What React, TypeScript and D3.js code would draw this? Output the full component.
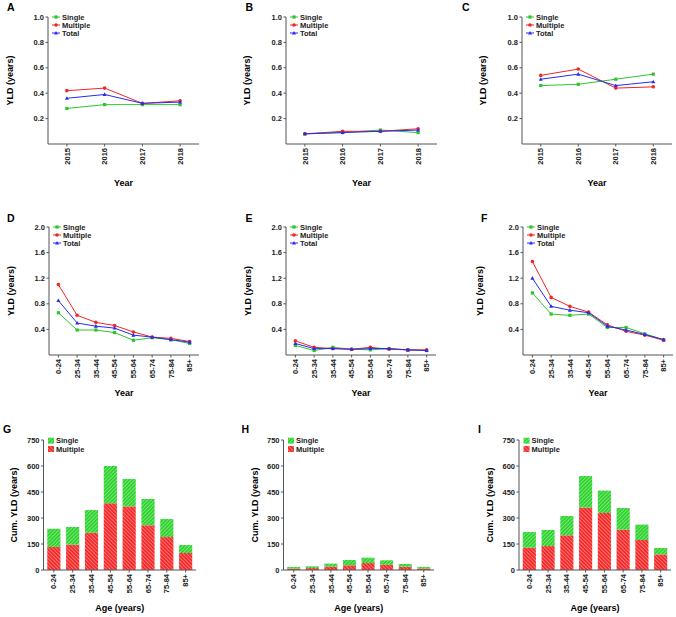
import React from "react";
import * as d3 from "d3";

// ---------- data ----------
const years = ["2015", "2016", "2017", "2018"];
const ageGroups = ["0-24", "25-34", "35-44", "45-54", "55-64", "65-74", "75-84", "85+"];

const yearTicks = [0.2, 0.4, 0.6, 0.8, 1.0];
const ageTicks = [0.4, 0.8, 1.2, 1.6, 2.0];
const cumTicks = [0, 150, 300, 450, 600, 750];

const A_single = [0.28, 0.31, 0.31, 0.31];
const A_multiple = [0.42, 0.44, 0.32, 0.34];
const A_total = [0.36, 0.39, 0.32, 0.33];

const B_single = [0.08, 0.09, 0.11, 0.09];
const B_multiple = [0.08, 0.1, 0.1, 0.12];
const B_total = [0.08, 0.09, 0.1, 0.11];

const C_single = [0.46, 0.47, 0.51, 0.55];
const C_multiple = [0.54, 0.59, 0.44, 0.45];
const C_total = [0.51, 0.55, 0.46, 0.49];

const D_single = [0.66, 0.39, 0.39, 0.35, 0.23, 0.27, 0.24, 0.18];
const D_multiple = [1.1, 0.62, 0.51, 0.46, 0.36, 0.28, 0.26, 0.21];
const D_total = [0.85, 0.5, 0.45, 0.42, 0.31, 0.28, 0.24, 0.2];

const E_single = [0.15, 0.07, 0.12, 0.09, 0.08, 0.1, 0.08, 0.07];
const E_multiple = [0.22, 0.12, 0.1, 0.09, 0.12, 0.09, 0.08, 0.08];
const E_total = [0.18, 0.1, 0.1, 0.09, 0.1, 0.1, 0.08, 0.07];

const F_single = [0.97, 0.64, 0.62, 0.64, 0.43, 0.43, 0.33, 0.24];
const F_multiple = [1.46, 0.9, 0.76, 0.67, 0.47, 0.37, 0.31, 0.23];
const F_total = [1.2, 0.76, 0.7, 0.66, 0.45, 0.39, 0.32, 0.24];

const G_multiple = [133, 146, 215, 385, 367, 258, 190, 98];
const G_single = [105, 102, 131, 215, 158, 152, 104, 46];

const H_multiple = [8, 11, 19, 27, 40, 30, 19, 9];
const H_single = [10, 10, 18, 31, 31, 26, 16, 9];

const I_multiple = [129, 138, 200, 360, 329, 233, 173, 90];
const I_single = [90, 93, 112, 182, 129, 125, 89, 37];

// ---------- style ----------
const FONT = "'Liberation Sans', Arial, sans-serif";
const GREEN = "#2ec42e";
const RED = "#f52525";
const BLUE = "#2a2af2";
const AXIS = "#555";
const TICK_FS = 7.5;
const TITLE_FS = 9;
const LETTER_FS = 10.5;

type Marker = "square" | "circle" | "triangle";

function MarkerShape({ x, y, kind, color }: { x: number; y: number; kind: Marker; color: string }) {
  if (kind === "square") return <rect x={x - 1.6} y={y - 1.6} width={3.2} height={3.2} fill={color} />;
  if (kind === "circle") return <circle cx={x} cy={y} r={1.8} fill={color} />;
  return <path d={`M${x},${y - 2.1}L${x + 2},${y + 1.5}L${x - 2},${y + 1.5}Z`} fill={color} />;
}

type LineProps = {
  letter: string;
  letterX: number;
  letterY: number;
  cats: string[];
  single: number[];
  multiple: number[];
  total: number[];
  x0: number;
  x1: number;
  yTop: number;
  yBottom: number;
  yMax: number;
  ticks: number[];
  titleX: number;
  xTitleY: number;
  xTitle: string;
};

function LinePanel(p: LineProps) {
  const x = d3.scalePoint<string>().domain(p.cats).range([p.x0, p.x1]).padding(0.5);
  const y = d3.scaleLinear().domain([0, p.yMax]).range([p.yBottom, p.yTop]);
  const series = [
    { name: "Single", vals: p.single, color: GREEN, marker: "square" as Marker },
    { name: "Multiple", vals: p.multiple, color: RED, marker: "circle" as Marker },
    { name: "Total", vals: p.total, color: BLUE, marker: "triangle" as Marker },
  ];
  const line = d3
    .line<number>()
    .x((_, i) => x(p.cats[i]) as number)
    .y((d) => y(d));
  return (
    <g>
      <text x={p.letterX} y={p.letterY} fontSize={LETTER_FS} fontWeight="bold" fontFamily={FONT}>
        {p.letter}
      </text>
      {/* axes */}
      <line x1={p.x0} x2={p.x0} y1={p.yTop} y2={p.yBottom} stroke={AXIS} strokeWidth={1} />
      <line x1={p.x0} x2={p.x1} y1={p.yBottom} y2={p.yBottom} stroke={AXIS} strokeWidth={1} />
      {p.ticks.map((t) => (
        <g key={t}>
          <line x1={p.x0 - 2.5} x2={p.x0} y1={y(t)} y2={y(t)} stroke={AXIS} />
          <text
            x={p.x0 - 4}
            y={y(t)}
            dy="0.35em"
            textAnchor="end"
            fontSize={TICK_FS}
            fontWeight="bold"
            fontFamily={FONT}
            fill="#222"
          >
            {d3.format(".1f")(t)}
          </text>
        </g>
      ))}
      {p.cats.map((c) => (
        <g key={c}>
          <line x1={x(c)} x2={x(c)} y1={p.yBottom} y2={p.yBottom + 2.5} stroke={AXIS} />
          <text
            transform={`translate(${x(c)},${p.yBottom + 4}) rotate(-90)`}
            dy="0.35em"
            textAnchor="end"
            fontSize={TICK_FS}
            fontWeight="bold"
            fontFamily={FONT}
            fill="#222"
          >
            {c}
          </text>
        </g>
      ))}
      <text
        transform={`translate(${p.titleX},${(p.yTop + p.yBottom) / 2}) rotate(-90)`}
        dy="0.35em"
        textAnchor="middle"
        fontSize={TITLE_FS}
        fontWeight="bold"
        fontFamily={FONT}
      >
        YLD (years)
      </text>
      <text
        x={(p.x0 + p.x1) / 2}
        y={p.xTitleY}
        textAnchor="middle"
        fontSize={TITLE_FS}
        fontWeight="bold"
        fontFamily={FONT}
      >
        {p.xTitle}
      </text>
      {/* series */}
      {series.map((s) => (
        <g key={s.name}>
          <path d={line(s.vals) || ""} fill="none" stroke={s.color} strokeWidth={1} />
          {s.vals.map((v, i) => (
            <MarkerShape key={i} x={x(p.cats[i]) as number} y={y(v)} kind={s.marker} color={s.color} />
          ))}
        </g>
      ))}
      {/* legend */}
      {series.map((s, i) => {
        const ly = p.yTop + i * 8;
        return (
          <g key={s.name}>
            <line x1={p.x0 + 4} x2={p.x0 + 12} y1={ly} y2={ly} stroke={s.color} strokeWidth={1} />
            <MarkerShape x={p.x0 + 8} y={ly} kind={s.marker} color={s.color} />
            <text
              x={p.x0 + 14}
              y={ly}
              dy="0.35em"
              fontSize={TICK_FS}
              fontWeight="bold"
              fontFamily={FONT}
              fill="#222"
            >
              {s.name}
            </text>
          </g>
        );
      })}
    </g>
  );
}

type BarProps = {
  letter: string;
  letterX: number;
  letterY: number;
  single: number[];
  multiple: number[];
  x0: number;
  x1: number;
  yTop: number;
  yBottom: number;
  titleX: number;
  xTitleY: number;
};

function BarPanel(p: BarProps) {
  const x = d3.scaleBand<string>().domain(ageGroups).range([p.x0, p.x1]).paddingInner(0.3).paddingOuter(0.2);
  const y = d3.scaleLinear().domain([0, 750]).range([p.yBottom, p.yTop]);
  const rows = ageGroups.map((g, i) => ({ g, multiple: p.multiple[i], single: p.single[i] }));
  const stacked = d3.stack<any>().keys(["multiple", "single"])(rows);
  const fills: Record<string, string> = { multiple: "url(#hatchRed)", single: "url(#hatchGreen)" };
  return (
    <g>
      <text x={p.letterX} y={p.letterY} fontSize={LETTER_FS} fontWeight="bold" fontFamily={FONT}>
        {p.letter}
      </text>
      {stacked.map((layer) => (
        <g key={layer.key}>
          {layer.map((d, i) => (
            <rect
              key={i}
              x={x(ageGroups[i])}
              width={x.bandwidth()}
              y={y(d[1])}
              height={Math.max(0, y(d[0]) - y(d[1]))}
              fill={fills[layer.key]}
            />
          ))}
        </g>
      ))}
      <line x1={p.x0} x2={p.x0} y1={p.yTop} y2={p.yBottom} stroke={AXIS} strokeWidth={1} />
      <line x1={p.x0} x2={p.x1} y1={p.yBottom} y2={p.yBottom} stroke={AXIS} strokeWidth={1} />
      {cumTicks.map((t) => (
        <g key={t}>
          <line x1={p.x0 - 2.5} x2={p.x0} y1={y(t)} y2={y(t)} stroke={AXIS} />
          <text
            x={p.x0 - 4}
            y={y(t)}
            dy="0.35em"
            textAnchor="end"
            fontSize={TICK_FS}
            fontWeight="bold"
            fontFamily={FONT}
            fill="#222"
          >
            {t}
          </text>
        </g>
      ))}
      {ageGroups.map((c) => {
        const cx = (x(c) as number) + x.bandwidth() / 2;
        return (
          <g key={c}>
            <line x1={cx} x2={cx} y1={p.yBottom} y2={p.yBottom + 2.5} stroke={AXIS} />
            <text
              transform={`translate(${cx},${p.yBottom + 4}) rotate(-90)`}
              dy="0.35em"
              textAnchor="end"
              fontSize={TICK_FS}
              fontWeight="bold"
              fontFamily={FONT}
              fill="#222"
            >
              {c}
            </text>
          </g>
        );
      })}
      <text
        transform={`translate(${p.titleX},${(p.yTop + p.yBottom) / 2}) rotate(-90)`}
        dy="0.35em"
        textAnchor="middle"
        fontSize={TITLE_FS}
        fontWeight="bold"
        fontFamily={FONT}
      >
        Cum. YLD (years)
      </text>
      <text
        x={(p.x0 + p.x1) / 2}
        y={p.xTitleY}
        textAnchor="middle"
        fontSize={TITLE_FS}
        fontWeight="bold"
        fontFamily={FONT}
      >
        Age (years)
      </text>
      {[
        { name: "Single", fill: "url(#hatchGreen)" },
        { name: "Multiple", fill: "url(#hatchRed)" },
      ].map((s, i) => {
        const ly = p.yTop + 0.7 + i * 8.3;
        return (
          <g key={s.name}>
            <rect x={p.x0 + 4.5} y={ly - 3} width={6} height={6} fill={s.fill} />
            <text
              x={p.x0 + 12.5}
              y={ly}
              dy="0.35em"
              fontSize={TICK_FS}
              fontWeight="bold"
              fontFamily={FONT}
              fill="#222"
            >
              {s.name}
            </text>
          </g>
        );
      })}
    </g>
  );
}

export default function App() {
  return (
    <svg
      width={676}
      height={617}
      viewBox="0 0 676 617"
      style={{ position: "absolute", left: 0, top: 0, background: "#fff" }}
    >
      <defs>
        <pattern id="hatchGreen" patternUnits="userSpaceOnUse" width={2.6} height={2.6} patternTransform="rotate(45)">
          <rect width={2.6} height={2.6} fill="#2fd22f" />
          <line x1={0} y1={0} x2={0} y2={2.6} stroke="#b8f5b8" strokeWidth={1} />
        </pattern>
        <pattern id="hatchRed" patternUnits="userSpaceOnUse" width={2.6} height={2.6} patternTransform="rotate(-45)">
          <rect width={2.6} height={2.6} fill="#f52a2a" />
          <line x1={0} y1={0} x2={0} y2={2.6} stroke="#ffb0b0" strokeWidth={1} />
        </pattern>
      </defs>
      <rect width={676} height={617} fill="#fff" />

      <LinePanel letter="A" letterX={7} letterY={11} cats={years} single={A_single} multiple={A_multiple} total={A_total}
        x0={48} x1={199} yTop={17} yBottom={144} yMax={1} ticks={yearTicks} titleX={10} xTitleY={186} xTitle="Year" />
      <LinePanel letter="B" letterX={245.5} letterY={11} cats={years} single={B_single} multiple={B_multiple} total={B_total}
        x0={286} x1={437} yTop={17} yBottom={144} yMax={1} ticks={yearTicks} titleX={247} xTitleY={186} xTitle="Year" />
      <LinePanel letter="C" letterX={462} letterY={11} cats={years} single={C_single} multiple={C_multiple} total={C_total}
        x0={522} x1={672} yTop={17} yBottom={144} yMax={1} ticks={yearTicks} titleX={483} xTitleY={186} xTitle="Year" />

      <LinePanel letter="D" letterX={7} letterY={222} cats={ageGroups} single={D_single} multiple={D_multiple} total={D_total}
        x0={49} x1={199} yTop={227} yBottom={355} yMax={2} ticks={ageTicks} titleX={10.5} xTitleY={396} xTitle="Year" />
      <LinePanel letter="E" letterX={245.5} letterY={222} cats={ageGroups} single={E_single} multiple={E_multiple} total={E_total}
        x0={286} x1={436} yTop={227} yBottom={355} yMax={2} ticks={ageTicks} titleX={247.5} xTitleY={396} xTitle="Year" />
      <LinePanel letter="F" letterX={481} letterY={222} cats={ageGroups} single={F_single} multiple={F_multiple} total={F_total}
        x0={523} x1={673} yTop={227} yBottom={355} yMax={2} ticks={ageTicks} titleX={480} xTitleY={396} xTitle="Year" />

      <BarPanel letter="G" letterX={3} letterY={433} single={G_single} multiple={G_multiple}
        x0={43.5} x1={196} yTop={440} yBottom={570} titleX={14} xTitleY={611} />
      <BarPanel letter="H" letterX={241.5} letterY={433} single={H_single} multiple={H_multiple}
        x0={283.5} x1={434} yTop={440} yBottom={570} titleX={255} xTitleY={611} />
      <BarPanel letter="I" letterX={478} letterY={433} single={I_single} multiple={I_multiple}
        x0={519} x1={671} yTop={440} yBottom={570} titleX={490} xTitleY={611} />
    </svg>
  );
}
